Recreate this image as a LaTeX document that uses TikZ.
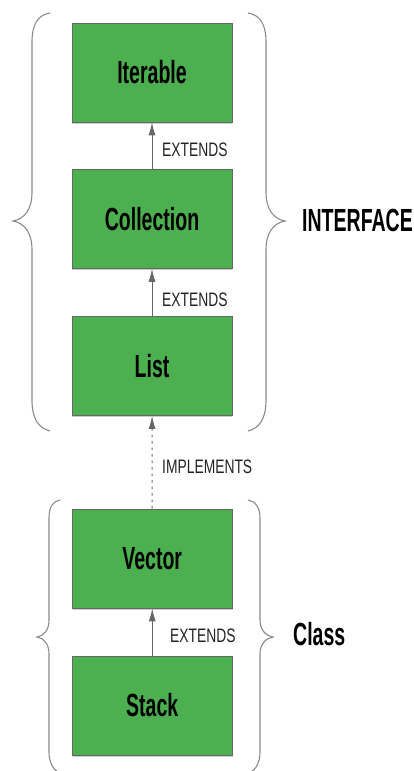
\documentclass[tikz,border=0pt]{standalone}
\usepackage{fontspec}
\newfontfamily\namefont[FakeStretch=0.61]{Liberation Sans}
\newfontfamily\relfont[FakeStretch=0.71]{Liberation Sans}
\usetikzlibrary{arrows.meta,shadows}
\definecolor{boxgreen}{HTML}{4CAF50}
\definecolor{edgegray}{HTML}{666666}
\definecolor{bracegray}{HTML}{8A8A8A}
\definecolor{labelink}{HTML}{222222}
\begin{document}
\begin{tikzpicture}[x=1pt,y=-1pt,
  typebox/.style={draw=edgegray, line width=0.8pt, fill=boxgreen,
    minimum width=160pt, minimum height=99pt, inner sep=0pt,
    font=\namefont\bfseries\fontsize{32}{36}\selectfont,
    drop shadow={shadow xshift=0.4pt, shadow yshift=-1.5pt, fill=black!40}},
  rel/.style={draw=edgegray, line width=0.9pt, -{Latex[length=13pt,width=7pt]}},
  implrel/.style={rel, dash pattern=on 2.5pt off 4pt},
  rellabel/.style={anchor=west, inner sep=0pt, text=labelink,
    font=\relfont\fontsize{19.5}{22}\selectfont},
  grouplabel/.style={anchor=west, inner sep=0pt,
    font=\namefont\bfseries\fontsize{32}{36}\selectfont},
  brace/.style={draw=bracegray, line width=1.1pt}]
\useasboundingbox (0,0) rectangle (413,771);

% type hierarchy
\node[typebox] (iter) at (152,72.5)   {Iterable};
\node[typebox] (coll) at (152,219)    {Collection};
\node[typebox] (list) at (152,366)    {List};
\node[typebox] (vect) at (152.25,558.5) {Vector};
\node[typebox] (stck) at (152.25,705.5) {Stack};

% relations
\draw[rel] (coll) -- (iter);
\draw[rel] (list) -- (coll);
\draw[implrel] (vect) -- (list);
\draw[rel] (stck) -- (vect);

\node[rellabel] (ext1) at (162,150) {EXTENDS};
\node[rellabel] (ext2) at (162,300) {EXTENDS};
\node[rellabel] (impl) at (162,467) {IMPLEMENTS};
\node[rellabel] (ext3) at (170,636) {EXTENDS};

% interface group
\draw[brace] (50,13) .. controls (38,15) and (32,24) .. (32,42) -- (32,192)
  .. controls (32,210) and (24,219) .. (13,221)
  .. controls (24,223) and (32,232) .. (32,250) -- (32,400)
  .. controls (32,418) and (38,428) .. (50,431);
\draw[brace] (248,13) .. controls (260,15) and (266,24) .. (266,42) -- (266,192)
  .. controls (266,210) and (274,219) .. (285,221)
  .. controls (274,223) and (266,232) .. (266,250) -- (266,400)
  .. controls (266,418) and (260,428) .. (248,431);
\node[grouplabel] (ifc) at (302,220) {INTERFACE};

% class group
\draw[brace] (60,500) .. controls (53,501) and (49,507) .. (49,518) -- (49,620)
  .. controls (49,630) and (44,636) .. (37,637)
  .. controls (44,638) and (49,644) .. (49,654) -- (49,752)
  .. controls (49,762) and (53,769) .. (58,772);
\draw[brace] (248,500) .. controls (255,501) and (260,507) .. (260,518) -- (260,620)
  .. controls (260,630) and (266,636) .. (273,637)
  .. controls (266,638) and (260,644) .. (260,654) -- (260,752)
  .. controls (260,762) and (256,769) .. (251,772);
\node[grouplabel] (cls) at (293,634) {Class};
\end{tikzpicture}
\end{document}
